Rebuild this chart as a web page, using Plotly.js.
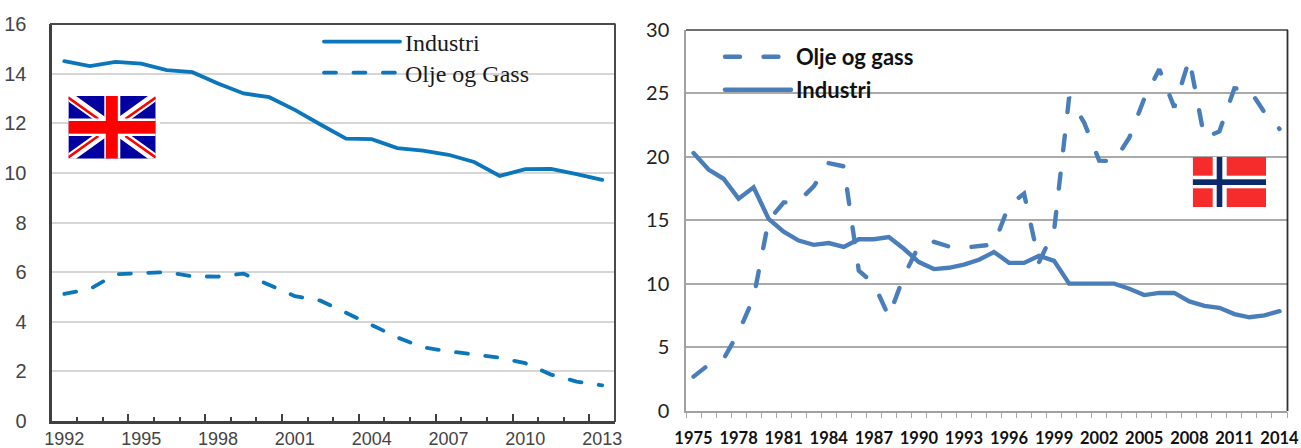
<!DOCTYPE html>
<html><head><meta charset="utf-8">
<script src="https://cdn.plot.ly/plotly-3.0.1.min.js"></script>
<style>
html,body{margin:0;padding:0;background:#fff;overflow:hidden}
#c{width:1301px;height:448px}
.js-line,.legendlines path{stroke-linecap:round}
</style></head><body><div id="c"></div>
<script>
const yearsUK=[1992,1993,1994,1995,1996,1997,1998,1999,2000,2001,2002,2003,2004,2005,2006,2007,2008,2009,2010,2011,2012,2013];
const industriUK=[14.5,14.3,14.47,14.4,14.14,14.06,13.6,13.2,13.05,12.54,11.95,11.38,11.36,11.0,10.9,10.73,10.44,9.88,10.15,10.16,9.95,9.72];
const oljeUK=[5.12,5.32,5.91,5.97,6.0,5.83,5.82,5.94,5.5,5.03,4.85,4.38,3.87,3.37,2.97,2.81,2.67,2.55,2.33,1.87,1.59,1.44];
const labelsUK=[1992,1995,1998,2001,2004,2007,2010,2013];
const yearsNO=[1975,1976,1977,1978,1979,1980,1981,1982,1983,1984,1985,1986,1987,1988,1989,1990,1991,1992,1993,1994,1995,1996,1997,1998,1999,2000,2001,2002,2003,2004,2005,2006,2007,2008,2009,2010,2011,2012,2013,2014];
const industriNO=[20.3,19.0,18.27,16.7,17.6,15.1,14.1,13.4,13.06,13.2,12.9,13.5,13.5,13.67,12.75,11.7,11.15,11.25,11.5,11.88,12.5,11.64,11.64,12.2,11.8,10.0,10.0,10.0,10.0,9.6,9.1,9.27,9.27,8.6,8.25,8.1,7.6,7.35,7.5,7.83];
const oljeNO=[2.67,3.6,4.06,6.17,8.9,15.0,16.4,16.5,17.67,19.5,19.25,11.03,10.0,7.4,10.6,13.0,13.3,12.93,12.83,12.93,13.1,16.2,17.1,11.7,14.2,24.7,22.7,19.7,19.65,21.5,24.6,26.9,23.9,27.7,21.5,22.0,25.4,25.3,23.5,22.2];
const labelsNO=[1975,1978,1981,1984,1987,1990,1993,1996,1999,2002,2005,2008,2011,2014];

const W=1301,H=448;
const px=v=>v/W, py=v=>1-v/H;
const UKC='#0b76bc', NOC='#4a7ebb';

const ukFlag=`<svg xmlns="http://www.w3.org/2000/svg" width="92" height="65" viewBox="0 0 92 65" preserveAspectRatio="none"><defs><clipPath id="k"><rect width="87.4" height="62.7"/></clipPath></defs><rect width="92" height="65" fill="#fff"/><g clip-path="url(#k)"><rect width="87.4" height="62.7" fill="#0000a0"/><path d="M0 0L87.4 62.7M87.4 0L0 62.7" stroke="#fff" stroke-width="9"/><path d="M0 1.5L30 23M87.4 1.5L57 23M0 61.5L30 40M87.4 61.5L57 40" stroke="#f00" stroke-width="2.6"/><rect x="36" width="16" height="62.7" fill="#fff"/><rect y="22.5" width="87.4" height="17.5" fill="#fff"/><rect x="37.5" width="12" height="62.7" fill="#f00"/><rect y="25" width="87.4" height="12.7" fill="#f00"/></g></svg>`;
const noFlag=`<svg xmlns="http://www.w3.org/2000/svg" width="73.4" height="50" viewBox="0 0 73.4 50" preserveAspectRatio="none"><rect width="73.4" height="50" fill="#f62c2c"/><rect x="20" width="14" height="50" fill="#fff"/><rect y="18.7" width="73.4" height="12.6" fill="#fff"/><rect x="24" width="5.6" height="50" fill="#0a2a6b"/><rect y="22.3" width="73.4" height="5.7" fill="#0a2a6b"/></svg>`;
const uri=s=>'data:image/svg+xml;charset=utf-8,'+encodeURIComponent(s);

const traces=[
 {x:yearsUK,y:industriUK,name:'Industri',mode:'lines',xaxis:'x',yaxis:'y',legend:'legend',line:{color:UKC,width:3.8},showlegend:true,hoverinfo:'skip'},
 {x:yearsUK,y:oljeUK,name:'Olje og Gass',mode:'lines',xaxis:'x',yaxis:'y',legend:'legend2',line:{color:UKC,width:3.8,dash:'12px,17.45px'},showlegend:true,hoverinfo:'skip'},
 {x:yearsNO,y:oljeNO,name:'Olje og gass',mode:'lines',xaxis:'x2',yaxis:'y2',legend:'legend3',line:{color:NOC,width:4.4,dash:'15px,23.5px'},showlegend:true,hoverinfo:'skip'},
 {x:yearsNO,y:industriNO,name:'Industri',mode:'lines',xaxis:'x2',yaxis:'y2',legend:'legend4',line:{color:NOC,width:4.4},showlegend:true,hoverinfo:'skip'},
 {x:[],y:[],xaxis:'x3',yaxis:'y',showlegend:false},
 {x:[],y:[],xaxis:'x4',yaxis:'y2',showlegend:false}
];
const serif={family:'"Liberation Serif",serif',size:24,color:'#1a1a1a'};
const lato={family:'Lato,sans-serif',size:22,color:'#111',weight:700};
const leg=(x,y,font,iw)=>({x:px(x),y:py(y),xref:'paper',yref:'paper',xanchor:'left',yanchor:'middle',bgcolor:'rgba(0,0,0,0)',borderwidth:0,font,itemwidth:iw,itemclick:false,itemdoubleclick:false});
const ukDom=[px(51.5),px(615)], noDom=[px(686),px(1287)];
const layout={
 width:W,height:H,margin:{l:0,r:0,t:0,b:0},paper_bgcolor:'#fff',plot_bgcolor:'#fff',
 xaxis:{domain:ukDom,anchor:'y',range:[1991.5,2013.5],tick0:1991.5,dtick:3,ticks:'inside',ticklen:7,tickwidth:1.5,tickcolor:'#404040',showticklabels:false,showgrid:false,zeroline:false,showline:true,linecolor:'#404040',linewidth:3,
   minor:{tick0:1991.5,dtick:1,ticks:'inside',ticklen:4,tickwidth:1.5,tickcolor:'#404040',showgrid:false}},
 xaxis3:{domain:ukDom,anchor:'y',overlaying:'x',range:[1991.5,2013.5],tickmode:'array',tickvals:labelsUK,ticktext:labelsUK.map(String),ticks:'',ticklabelstandoff:5,tickfont:{family:'"Liberation Sans",sans-serif',size:18,color:'#444'},showgrid:false,zeroline:false,showline:false},
 yaxis:{domain:[py(421),py(24)],anchor:'x',range:[0,16],dtick:2,ticks:'',ticklabelstandoff:18,tickfont:{family:'"Liberation Sans",sans-serif',size:20,color:'#444'},gridcolor:'#d6d6d6',gridwidth:1.8,zeroline:false,showline:true,linecolor:'#404040',linewidth:3},
 xaxis2:{domain:noDom,anchor:'y2',range:[1974.5,2014.5],tick0:1974.5,dtick:1,ticks:'outside',ticklen:6,tickwidth:1.3,tickcolor:'#a6a6a6',showticklabels:false,showgrid:false,zeroline:false,showline:true,linecolor:'#a0a0a0',linewidth:1.5},
 xaxis4:{domain:noDom,anchor:'y2',overlaying:'x2',range:[1974.5,2014.5],tickmode:'array',tickvals:labelsNO,ticktext:labelsNO.map(String),ticks:'',ticklabelstandoff:16,tickfont:{family:'Lato,sans-serif',size:16.5,color:'#111',weight:700},showgrid:false,zeroline:false,showline:false},
 yaxis2:{domain:[py(410.5),py(30)],anchor:'x2',range:[0,30],dtick:5,ticks:'',ticklabelstandoff:11,tickfont:{family:'Lato,sans-serif',size:20,color:'#222'},gridcolor:'#aaaaaa',gridwidth:1.6,zeroline:false,showline:true,linecolor:'#a0a0a0',linewidth:1.5},
 legend:leg(319,42,serif,76),
 legend2:leg(319,73,serif,76),
 legend3:leg(720,57,lato,66),
 legend4:leg(720,90,lato,66),
 shapes:[
  {type:'line',xref:'paper',yref:'paper',x0:px(50),x1:px(615.5),y0:py(24),y1:py(24),line:{color:'#4a4a4a',width:2}},
  {type:'line',xref:'paper',yref:'paper',x0:px(615),x1:px(615),y0:py(24),y1:py(422),line:{color:'#4a4a4a',width:2}},
  {type:'line',xref:'paper',yref:'paper',x0:px(686),x1:px(1288),y0:py(30),y1:py(30),line:{color:'#404040',width:1.5}},
  {type:'line',xref:'paper',yref:'paper',x0:px(1287.5),x1:px(1287.5),y0:py(30),y1:py(411),line:{color:'#303030',width:1.8}}
 ],
 images:[
  {source:uri(ukFlag),xref:'paper',yref:'paper',x:px(68.3),y:py(96),sizex:92/W,sizey:65/H,sizing:'stretch',xanchor:'left',yanchor:'top',layer:'above'},
  {source:uri(noFlag),xref:'paper',yref:'paper',x:px(1192.7),y:py(157),sizex:73.4/W,sizey:50/H,sizing:'stretch',xanchor:'left',yanchor:'top',layer:'above'}
 ]
};
Plotly.newPlot('c',traces,layout,{displayModeBar:false,responsive:false});
</script></body></html>
